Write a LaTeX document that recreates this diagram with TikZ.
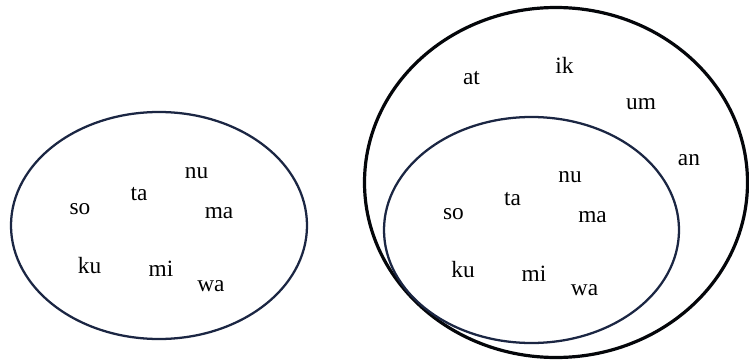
\documentclass[tikz,border=0pt]{standalone}
\usepackage{fontspec}
\setmainfont{Liberation Serif}
\definecolor{navy}{HTML}{1B2643}
\tikzset{
  setline/.style={draw=navy, line width=1.7pt},
  outerline/.style={draw=black!85!navy, line width=2.4pt},
  word/.style={font=\fontsize{17.5}{19}\selectfont, inner sep=0pt, text=black}
}
\begin{document}
\begin{tikzpicture}[x=0.75pt,y=-0.75pt]
\useasboundingbox (0,0) rectangle (749,360);
% ellipses
\draw[setline] (159,225.5) ellipse [x radius=148, y radius=113.5];
\draw[outerline] (556,182.5) ellipse [x radius=191.5, y radius=175];
\draw[setline] (531.5,230) ellipse [x radius=147.5, y radius=113];
% left set
\node[word] (lso) at (80,209) {so};
\node[word] (lta) at (139,194) {ta};
\node[word] (lnu) at (196.5,173) {nu};
\node[word] (lma) at (219,213) {ma};
\node[word] (lku) at (89.5,265.5) {ku};
\node[word] (lmi) at (161,268.5) {mi};
\node[word] (lwa) at (211,286) {wa};
% right outer set
\node[word] (rat) at (471.5,78) {at};
\node[word] (rik) at (564.5,65) {ik};
\node[word] (rum) at (641,104.5) {um};
\node[word] (ran) at (689,160) {an};
% right inner set
\node[word] (rnu) at (570,177.5) {nu};
\node[word] (rta) at (512.5,199) {ta};
\node[word] (rso) at (453.5,214) {so};
\node[word] (rma) at (592.5,217) {ma};
\node[word] (rku) at (463,270) {ku};
\node[word] (rmi) at (534,274) {mi};
\node[word] (rwa) at (584.5,290) {wa};
\end{tikzpicture}
\end{document}
